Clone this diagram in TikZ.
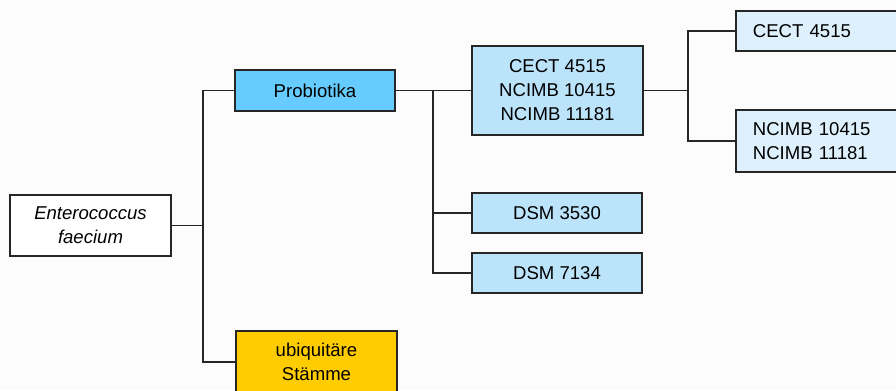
\documentclass[tikz,border=0pt]{standalone}
\usepackage{fontspec}
\setmainfont{Liberation Sans}
\usepackage{tikz}
\usetikzlibrary{calc}
\definecolor{probblue}{HTML}{66CCFF}
\definecolor{strainblue}{HTML}{BBE3F9}
\definecolor{paleblue}{HTML}{DDF0FC}
\definecolor{ubiyellow}{HTML}{FFCC00}
\definecolor{edgegray}{HTML}{262626}
\tikzset{
	treebox/.style={draw=edgegray, line width=1.3pt, inner sep=0pt, align=center,
		font=\fontsize{13.2}{17}\selectfont},
	treeline/.style={draw=edgegray, line width=1.2pt}
}

\begin{document}
\begin{tikzpicture}[x=0.025cm, y=-0.025cm]
			%%%%% START %%%%%
			
			\useasboundingbox (0, 0) rectangle (896, 390);
			\clip (0, 0) rectangle (896, 390);
			\fill[white!99!black] (0, 0) rectangle (896, 390);
			
			\node[treebox, fill=white, minimum width=4.025cm, minimum height=1.525cm] (ent) at (90.5, 225.5) {\itshape Enterococcus\\\itshape faecium};
			
			\node[treebox, fill=probblue, minimum width=4.0cm, minimum height=1.025cm] (prob) at (315, 90.5) {Probiotika};
			\node[treebox, fill=ubiyellow, minimum width=4.025cm, minimum height=1.55cm] (ubi) at (316.5, 362) {ubiquitäre\\Stämme};
			
			\node[treebox, fill=strainblue, minimum width=4.275cm, minimum height=2.225cm] (cect) at (557.5, 90.5) {CECT 4515\\NCIMB 10415\\NCIMB 11181};
			\node[treebox, fill=strainblue, minimum width=4.25cm, minimum height=1.0cm] (dsma) at (557, 213) {DSM 3530};
			\node[treebox, fill=strainblue, minimum width=4.25cm, minimum height=1.0cm] (dsmb) at (557, 273) {DSM 7134};
			
			\node[treebox, fill=paleblue, align=left, text width=4.4cm, inner xsep=0.425cm, minimum height=1.0cm, anchor=west] (cecta) at (735, 31) {CECT 4515};
			\node[treebox, fill=paleblue, align=left, text width=4.4cm, inner xsep=0.425cm, minimum height=1.55cm, anchor=west] (ncimb) at (735, 141) {NCIMB 10415\\NCIMB 11181};
			
			% branches
			\coordinate (ja) at (203, 225.5);
			\coordinate (jb) at (433, 90.5);
			\coordinate (jc) at (688, 90.5);
			
			\draw[treeline] (ent) -- (ja);
			\draw[treeline] (ja) |- (prob);
			\draw[treeline] (ja) |- (ubi);
			
			\draw[treeline] (prob) -- (jb);
			\draw[treeline] (jb) -- (cect);
			\draw[treeline] (jb) |- (dsma);
			\draw[treeline] (jb) |- (dsmb);
			
			\draw[treeline] (cect) -- (jc);
			\draw[treeline] (jc) |- (cecta);
			\draw[treeline] (jc) |- (ncimb);
			
			%%%%% END %%%%%
		\end{tikzpicture}
\end{document}
